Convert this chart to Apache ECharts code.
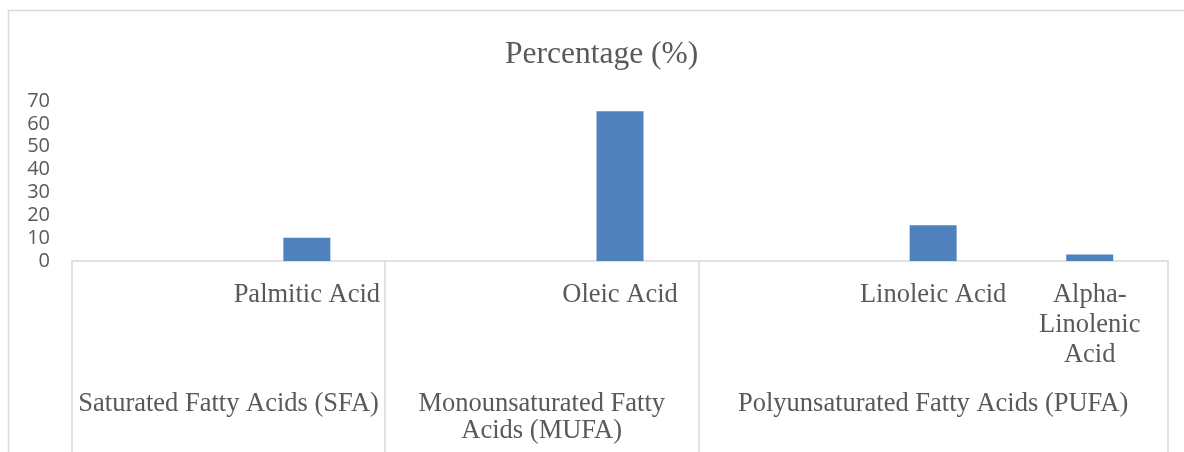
<!DOCTYPE html>
<html><head><meta charset="utf-8">
<script src="https://cdn.jsdelivr.net/npm/echarts@6/dist/echarts.min.js"></script>
<style>html,body{margin:0;padding:0;background:#fff}#c{width:1184px;height:452px}</style>
</head><body><div id="c"></div>
<script>
const chartTitle = 'Percentage (%)';
const categories = ['', 'Palmitic Acid', '', 'Oleic Acid', '', 'Linoleic Acid', 'Alpha-Linolenic Acid'];
const categoryLines = {'Alpha-Linolenic Acid': 'Alpha-\nLinolenic\nAcid'};
const values = [null, 10.2, null, 65.5, null, 15.6, 2.8];
const groups = ['Saturated Fatty Acids (SFA)', 'Monounsaturated Fatty Acids (MUFA)', 'Polyunsaturated Fatty Acids (PUFA)'];
const groupSpans = [2, 2, 3];
const groupLines = {'Monounsaturated Fatty Acids (MUFA)': 'Monounsaturated Fatty\nAcids (MUFA)'};
const yMin = 0, yMax = 70, yStep = 10;

const bounds = [0];
groupSpans.forEach(s => bounds.push(bounds[bounds.length - 1] + s));
const centers = groupSpans.map((s, i) => bounds[i] + s / 2);

const chart = echarts.init(document.getElementById('c'), null, {renderer: 'canvas'});
const gray = '#595959';
chart.setOption({
  animation: false,
  backgroundColor: '#fff',
  title: {
    text: chartTitle, left: 500, top: 34,
    textStyle: {fontFamily: 'Liberation Serif', fontSize: 31.5, fontWeight: 'normal', color: gray}
  },
  grid: {left: 72, right: 16, top: 101, bottom: 191, containLabel: false},
  xAxis: [
    {
      type: 'category', data: categories, boundaryGap: true,
      axisLine: {show: true, lineStyle: {color: '#d9d9d9', width: 1.5}},
      axisTick: {show: false},
      splitLine: {show: false},
      axisLabel: {
        interval: 0, margin: 19, color: gray, fontFamily: 'Liberation Serif', fontSize: 26.5, lineHeight: 30,
        formatter: v => categoryLines[v] || v
      }
    },
    {
      type: 'value', min: bounds[0], max: bounds[bounds.length - 1], position: 'bottom',
      axisLine: {show: false},
      splitLine: {show: false},
      axisTick: {show: true, customValues: bounds, length: 191, lineStyle: {color: '#d9d9d9', width: 1.5}},
      axisLabel: {
        customValues: centers, margin: 130, color: gray, fontFamily: 'Liberation Serif', fontSize: 26.5, lineHeight: 27,
        formatter: v => { const g = groups[centers.indexOf(v)]; return g ? (groupLines[g] || g) : ''; }
      }
    }
  ],
  yAxis: {
    type: 'value', min: yMin, max: yMax, interval: yStep,
    axisLine: {show: false}, axisTick: {show: false}, splitLine: {show: false},
    axisLabel: {margin: 22, color: gray, fontFamily: 'Open Sans', fontSize: 20}
  },
  series: [{
    type: 'bar', data: values, xAxisIndex: 0, barWidth: '30%',
    itemStyle: {color: '#4f81bd'}
  }],
  graphic: [{
    type: 'rect', silent: true,
    shape: {x: 8.5, y: 10.5, width: 1200, height: 500},
    style: {fill: 'none', stroke: '#d9d9d9', lineWidth: 1.5}
  }]
});
</script></body></html>
